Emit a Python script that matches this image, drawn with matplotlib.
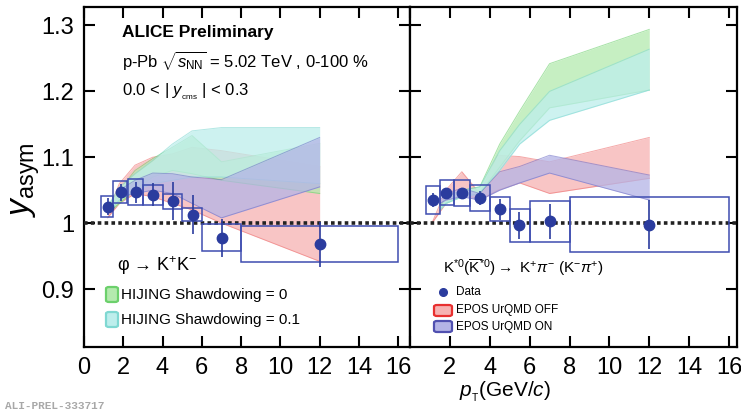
import matplotlib
matplotlib.use("Agg")
import matplotlib.pyplot as plt
from matplotlib.patches import Rectangle, FancyBboxPatch
from matplotlib.lines import Line2D

plt.rcParams.update({
    'font.family': ['Liberation Sans', 'DejaVu Sans'],
    'mathtext.fontset': 'custom',
    'mathtext.rm': 'Liberation Sans',
    'mathtext.it': 'Liberation Sans:italic',
    'mathtext.bf': 'Liberation Sans:bold',
})

# phi -> K+K- data
phi_pt = [1.2, 1.87, 2.63, 3.53, 4.55, 5.55, 7.05, 12.0]
phi_lo = [0.85, 1.5, 2.25, 3.0, 4.0, 5.0, 6.0, 8.0]
phi_hi = [1.5, 2.2, 3.0, 4.0, 5.0, 6.0, 8.0, 16.0]
phi_y = [1.025, 1.047, 1.047, 1.043, 1.033, 1.013, 0.978, 0.968]
phi_stat = [0.013, 0.013, 0.016, 0.0175, 0.029, 0.0295, 0.029, 0.034]
phi_sys = [0.0155, 0.017, 0.0195, 0.015, 0.0115, 0.010, 0.020, 0.0275]

# K*0 data
ks_pt = [1.13, 1.83, 2.59, 3.49, 4.5, 5.49, 7.01, 11.98]
ks_lo = [0.8, 1.5, 2.2, 3.0, 4.0, 5.0, 6.0, 8.0]
ks_hi = [1.5, 2.2, 3.0, 4.0, 5.0, 6.0, 8.0, 16.0]
ks_y = [1.035, 1.046, 1.0455, 1.038, 1.021, 0.9965, 1.0025, 0.9975]
ks_stat = [0.011, 0.007, 0.0075, 0.010, 0.0155, 0.020, 0.027, 0.0375]
ks_sys = [0.021, 0.019, 0.0195, 0.0195, 0.0185, 0.0247, 0.031, 0.0415]

# model bands, phi panel
phi_m_pt = [1.2, 1.8, 2.6, 3.5, 4.5, 5.5, 7.0, 12.0]
phi_hij0_lo = [1.015, 1.03, 1.05, 1.07, 1.08, 1.075, 1.065, 1.045]
phi_hij0_hi = [1.025, 1.05, 1.08, 1.098, 1.115, 1.133, 1.093, 1.121]
phi_hij1_lo = [1.015, 1.035, 1.05, 1.06, 1.065, 1.07, 1.07, 1.06]
phi_hij1_hi = [1.025, 1.055, 1.075, 1.095, 1.12, 1.14, 1.145, 1.145]
phi_off_lo = [1.008, 1.03, 1.045, 1.04, 1.03, 1.02, 1.0, 0.942]
phi_off_hi = [1.015, 1.06, 1.088, 1.10, 1.105, 1.115, 1.11, 1.086]
phi_on_pt = [1.8, 2.6, 3.5, 4.5, 5.5, 7.0, 12.0]
phi_on_lo = [1.04, 1.045, 1.05, 1.045, 1.03, 1.008, 1.055]
phi_on_hi = [1.05, 1.065, 1.076, 1.075, 1.07, 1.066, 1.13]

# model bands, K*0 panel
ks_m_pt = [1.5, 1.8, 2.6, 3.5, 4.5, 5.5, 7.0, 12.0]
ks_hij0_lo = [1.02, 1.03, 1.04, 1.045, 1.085, 1.125, 1.175, 1.202]
ks_hij0_hi = [1.025, 1.04, 1.05, 1.055, 1.12, 1.17, 1.242, 1.294]
ks_hij1_lo = [1.02, 1.03, 1.04, 1.045, 1.08, 1.12, 1.156, 1.202]
ks_hij1_hi = [1.025, 1.04, 1.05, 1.055, 1.11, 1.15, 1.20, 1.264]
ks_on_lo = [1.03, 1.035, 1.04, 1.035, 1.05, 1.061, 1.076, 1.035]
ks_on_hi = [1.035, 1.045, 1.053, 1.045, 1.078, 1.086, 1.103, 1.073]
ks_off_pt = [1.1, 1.8, 2.6, 3.5, 4.4, 5.5, 7.0, 12.0]
ks_off_lo = [1.0, 1.03, 1.045, 1.035, 1.05, 1.061, 1.045, 1.068]
ks_off_hi = [1.0, 1.05, 1.078, 1.045, 1.103, 1.101, 1.093, 1.13]

W, H = 741, 415
fig = plt.figure(figsize=(W / 100, H / 100), dpi=100)


def fx(px):
    return px / W


def fy(py):
    return 1 - py / H


ax1 = fig.add_axes([fx(84), fy(347), fx(410 - 84), (347 - 7) / H])
ax2 = fig.add_axes([fx(410), fy(347), fx(737 - 410), (347 - 7) / H])

c_green = ('#b4eaae', '#6cd06c')
c_cyan = ('#bdeeec', '#7fd8d2')
c_red = ('#f6b2b2', '#ee7070')
c_blue = ('#b4b4e6', '#7070c8')
c_box = '#3e4db0'
c_pt = '#2b3c9e'


def band(ax, x, lo, hi, col, z):
    ax.fill_between(x, lo, hi, color=col[0], alpha=0.75, lw=0, zorder=z)
    ax.plot(x, lo, color=col[1], lw=0.7, alpha=0.6, zorder=z)
    ax.plot(x, hi, color=col[1], lw=0.7, alpha=0.6, zorder=z)


def data(ax, pt, lo, hi, y, stat, sys):
    for i in range(len(pt)):
        ax.add_patch(Rectangle((lo[i], y[i] - sys[i]), hi[i] - lo[i], 2 * sys[i],
                               fill=False, ec=c_box, lw=1.1, zorder=5))
    ax.errorbar(pt, y, yerr=stat, fmt='o', ms=7.5, color=c_pt, ecolor=c_pt,
                elinewidth=1.2, capsize=0, zorder=6)


band(ax1, phi_m_pt, phi_off_lo, phi_off_hi, c_red, 1)
band(ax1, phi_m_pt, phi_hij0_lo, phi_hij0_hi, c_green, 2)
band(ax1, phi_m_pt, phi_hij1_lo, phi_hij1_hi, c_cyan, 3)
band(ax1, phi_on_pt, phi_on_lo, phi_on_hi, c_blue, 4)
data(ax1, phi_pt, phi_lo, phi_hi, phi_y, phi_stat, phi_sys)

band(ax2, ks_off_pt, ks_off_lo, ks_off_hi, c_red, 1)
band(ax2, ks_m_pt, ks_hij0_lo, ks_hij0_hi, c_green, 2)
band(ax2, ks_m_pt, ks_hij1_lo, ks_hij1_hi, c_cyan, 3)
band(ax2, ks_m_pt, ks_on_lo, ks_on_hi, c_blue, 4)
data(ax2, ks_pt, ks_lo, ks_hi, ks_y, ks_stat, ks_sys)

for ax, xmax in ((ax1, 16.6), (ax2, 16.4)):
    ax.axhline(1.0, color='#222222', lw=2.6, ls=(0, (1.0, 0.9)), zorder=4)
    ax.set_xlim(0, xmax)
    ax.set_ylim(0.812, 1.328)
    ax.set_xticks(range(0, 17, 2))
    ax.set_yticks([0.9, 1.0, 1.1, 1.2, 1.3])
    ax.tick_params(direction='in', length=8, width=1.5, top=True, right=True,
                   labelsize=17, pad=7)
    for s in ax.spines.values():
        s.set_linewidth(1.6)

ax1.set_yticklabels(['0.9', '1', '1.1', '1.2', '1.3'])
ax1.set_xticklabels([str(v) for v in range(0, 17, 2)])
ax2.set_yticklabels([])
ax2.set_xticklabels([''] + [str(v) for v in range(2, 17, 2)])

# texts
fig.text(fx(122), fy(33), 'ALICE Preliminary', fontsize=12.5, fontweight='bold',
         va='center', ha='left')
fig.text(fx(122), fy(61), r'p-Pb $\sqrt{s_{\rm NN}}$ = 5.02 TeV , 0-100 %',
         fontsize=12, va='center', ha='left')
fig.text(fx(122), fy(92), r'0.0 < | $y_{_{\rm cms}}$ | < 0.3',
         fontsize=12, va='center', ha='left')
fig.text(fx(117), fy(266), 'φ → K$^{+}$K$^{-}$',
         fontsize=13, va='center', ha='left',
         family=['Liberation Sans', 'DejaVu Sans'])
fig.text(fx(443), fy(268),
         r'K$^{*0}$($\overline{\rm K}^{*0}$)$\rightarrow$ K$^{+}\pi^{-}$ (K$^{-}\pi^{+}$)',
         fontsize=11, va='center', ha='left')

fig.text(fx(26), fy(180), r'$y_{\rm asym}$', fontsize=24, rotation=90,
         va='center', ha='center')
fig.text(fx(505), fy(392), r'$p_{_{\rm T}}$(GeV/$c$)', fontsize=15,
         va='center', ha='center')
fig.text(fx(5), fy(406), 'ALI-PREL-333717', fontsize=8, color='#a8a8a8',
         fontweight='bold', family=['Liberation Mono', 'DejaVu Sans Mono'],
         va='center', ha='left')


def leg_box(x0, y0, x1, y1, col):
    fig.add_artist(FancyBboxPatch((fx(x0), fy(y1)), fx(x1 - x0), (y1 - y0) / H,
                                  boxstyle='round,pad=0,rounding_size=0.004',
                                  fc=col[0], ec=col[1], lw=1.6,
                                  transform=fig.transFigure))


leg_box(106, 287, 118, 302, c_green)
fig.text(fx(121), fy(295), 'HIJING Shawdowing = 0', fontsize=11, va='center')
leg_box(106, 312, 118, 327, c_cyan)
fig.text(fx(121), fy(320), 'HIJING Shawdowing = 0.1', fontsize=11, va='center')

fig.add_artist(Line2D([fx(443)], [fy(292)], marker='o', ms=5.5, color=c_pt,
                      transform=fig.transFigure))
fig.text(fx(456), fy(292), 'Data', fontsize=8.5, va='center')
leg_box(434, 305, 452, 316, ('#f6b2b2', '#e83030'))
fig.text(fx(456), fy(310), 'EPOS UrQMD OFF', fontsize=8.5, va='center')
leg_box(434, 321, 452, 332, ('#b4b4e6', '#5050b0'))
fig.text(fx(456), fy(327), 'EPOS UrQMD ON', fontsize=8.5, va='center')

fig.savefig('out.png', dpi=100)
